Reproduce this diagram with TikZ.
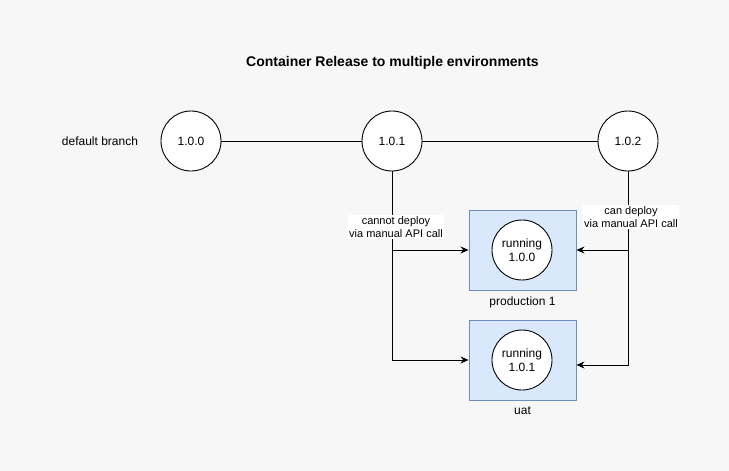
\documentclass[tikz,border=0pt]{standalone}
\usepackage{fontspec}
\setmainfont{Liberation Sans}
\usetikzlibrary{arrows.meta}
\definecolor{bg}{HTML}{F7F7F7}
\definecolor{boxfill}{HTML}{DAE8FC}
\definecolor{boxline}{HTML}{6C8EBF}
\begin{document}
\begin{tikzpicture}[x=1pt,y=-1pt,
  ver/.style={circle,draw=black,fill=white,line width=0.9pt,minimum size=60pt,inner sep=0pt,font=\fontsize{12}{14}\selectfont,align=center},
  env/.style={rectangle,draw=boxline,fill=boxfill,line width=0.9pt,minimum width=107pt,minimum height=80pt,inner sep=0pt},
  lbl/.style={font=\fontsize{12}{14}\selectfont,inner sep=0pt},
  elbl/.style={fill=white,font=\fontsize{11}{13}\selectfont,align=center,inner sep=1pt},
  conn/.style={line width=0.9pt,draw=black},
  arr/.style={conn,-{Stealth[length=8pt,width=7pt]}}]
\fill[bg] (0,0) rectangle (729,471);
\useasboundingbox (0,0) rectangle (729,471);
\node[font=\bfseries\fontsize{14}{16}\selectfont,inner sep=0pt] (title) at (392.5,63) {Container Release to multiple environments};
\node[lbl] (branch) at (100,141) {default branch};
\node[ver] (v100) at (191,141) {1.0.0};
\node[ver] (v101) at (392,141) {1.0.1};
\node[ver] (v102) at (628,141) {1.0.2};
\node[env] (prod) at (522.5,250) {};
\node[env] (uat) at (522.5,360) {};
\node[ver] (r100) at (522,250) {running\\1.0.0};
\node[ver] (r101) at (522,360) {running\\1.0.1};
\node[lbl] (prodl) at (522.5,302) {production 1};
\node[lbl] (uatl) at (522.5,411) {uat};
\draw[conn] (v100) -- (v101);
\draw[conn] (v101) -- (v102);
\draw[arr] (v101.south) |- (uat.west);
\draw[arr] (v101.south) |- (prod.west);
\draw[arr] (v102.south) |- (prod.east);
\draw[arr] (v102.south) |- ([yshift=-5pt]uat.east);
\node[elbl] (cant) at (396,227) {cannot deploy\\via manual API call};
\node[elbl] (can) at (631,217) {can deploy\\via manual API call};
\end{tikzpicture}
\end{document}
